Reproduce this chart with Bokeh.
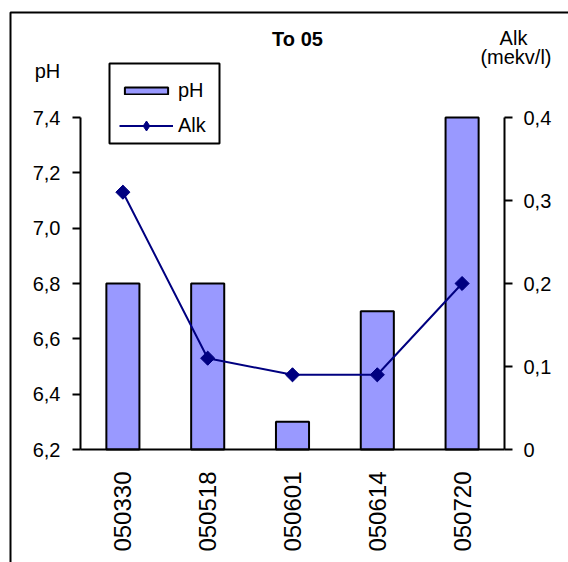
import numpy as np
from bokeh.plotting import figure
from bokeh.models import (Range1d, LinearAxis, FixedTicker, CustomJSTickFormatter,
                          Label, Legend, LegendItem, BoxAnnotation, ColumnDataSource)
from bokeh.embed import file_html
from bokeh.resources import INLINE

# ---- data ----
dates = ["050330", "050518", "050601", "050614", "050720"]
ph = [6.8, 6.8, 6.3, 6.7, 7.4]
alk = [0.31, 0.11, 0.09, 0.09, 0.20]
ph_ticks = [6.2, 6.4, 6.6, 6.8, 7.0, 7.2, 7.4]
alk_ticks = [0.0, 0.1, 0.2, 0.3, 0.4]
title_text = "To 05"
ph_axis_title = "pH"
alk_axis_title = ["Alk", "(mekv/l)"]
series_names = ["pH", "Alk"]

# ---- layout (canvas pixels) ----
W, H = 568, 562
PL, PR, PT, PB = 80, 504, 117, 449   # plot-area edges
FONT = "Liberation Sans"
FS = "20px"

n = len(dates)
xpos = [i + 0.5 for i in range(n)]
kx = (PR - PL) / n
ph_lo, ph_hi = ph_ticks[0], ph_ticks[-1]
ky = (PB - PT) / (ph_hi - ph_lo)
al_lo, al_hi = alk_ticks[0], alk_ticks[-1]
ka = (PB - PT) / (al_hi - al_lo)

x_range = Range1d(-PL / kx, n + (W - PR) / kx)
y_range = Range1d(ph_lo - (H - PB) / ky, ph_hi + PT / ky)

def sx(x):
    return x

def sy(y):
    return H - y

p = figure(width=W, height=H, x_range=x_range, y_range=y_range,
           output_backend="svg", toolbar_location=None, min_border=0)
p.extra_y_ranges = {"alk": Range1d(al_lo - (H - PB) / ka, al_hi + PT / ka)}
p.xgrid.visible = False
p.ygrid.visible = False
p.outline_line_color = None
p.background_fill_color = "white"
p.border_fill_color = "white"

# outer chart border (continues beyond the window, as in the reference)
p.add_layout(BoxAnnotation(left=sx(10), right=sx(W + 50), top=sy(12), bottom=sy(H + 50),
                           left_units="screen", right_units="screen",
                           top_units="screen", bottom_units="screen",
                           fill_alpha=0, line_color="black", line_alpha=1, line_width=2))

src = ColumnDataSource(dict(x=xpos, ph=ph, alk=alk, base=[ph_lo] * n))
bars = p.vbar(x="x", top="ph", bottom="base", width=0.39, source=src,
              fill_color="#9999FF", line_color="black", line_width=2)
ln = p.line(x="x", y="alk", source=src, y_range_name="alk", line_color="#000080", line_width=2)
leg_mk = p.scatter(x="x", y="alk", source=src, y_range_name="alk", marker="diamond",
                   size=13, fill_color="#000080", line_color="#000080")
mk = p.scatter(x="x", y="alk", source=src, y_range_name="alk", marker="square", angle=np.pi / 4,
               size=10, fill_color="#000080", line_color="#000080")

def style_axis(ax):
    ax.axis_line_width = 2
    ax.axis_line_color = "black"
    ax.major_tick_line_width = 2
    ax.major_tick_line_color = "black"
    ax.minor_tick_line_color = None
    ax.major_label_text_font = FONT
    ax.major_label_text_font_size = FS
    ax.major_label_text_color = "black"

yl = p.yaxis[0]
style_axis(yl)
yl.fixed_location = 0
yl.bounds = (ph_lo, ph_hi)
yl.ticker = FixedTicker(ticks=ph_ticks)
yl.formatter = CustomJSTickFormatter(code="return tick.toFixed(1).replace('.', ',');")
yl.major_tick_out = 8
yl.major_tick_in = 0
yl.major_label_standoff = 12

yr = LinearAxis(y_range_name="alk", fixed_location=n, bounds=(al_lo, al_hi))
style_axis(yr)
yr.ticker = FixedTicker(ticks=alk_ticks)
yr.formatter = CustomJSTickFormatter(code="return tick == 0 ? '0' : tick.toFixed(1).replace('.', ',');")
yr.major_tick_out = 8
yr.major_tick_in = 0
yr.major_label_standoff = 11
p.add_layout(yr, "right")

xa = p.xaxis[0]
style_axis(xa)
xa.fixed_location = ph_lo
xa.bounds = (0, n)
xa.ticker = FixedTicker(ticks=xpos)
xa.major_label_overrides = {x: d for x, d in zip(xpos, dates)}
xa.major_tick_out = 0
xa.major_tick_in = 0
xa.major_label_orientation = np.pi / 2
xa.major_label_standoff = 22
xa.major_label_text_font_size = "24px"

# titles
def lab(x, y, text, align="center", bold=False):
    p.add_layout(Label(x=sx(x), y=sy(y), x_units="screen", y_units="screen", text=text,
                       text_align=align, text_baseline="alphabetic", text_font=FONT,
                       text_font_size=FS, text_font_style="bold" if bold else "normal",
                       text_color="black"))

lab(297, 38, title_text, bold=True)
lab(47, 70, ph_axis_title)
lab(513, 37, alk_axis_title[0])
lab(551, 56, alk_axis_title[1], align="right")

def mk_legend(items, gh, bottom):
    lg = Legend(items=items, location=(sx(119), sy(bottom)), glyph_width=54, glyph_height=gh,
                label_height=gh, label_standoff=5, padding=0, margin=0, spacing=0,
                border_line_color=None, background_fill_alpha=0,
                label_text_font=FONT, label_text_font_size=FS, label_text_color="black")
    p.add_layout(lg)

mk_legend([LegendItem(label=series_names[0], renderers=[bars])], 9, 102)
mk_legend([LegendItem(label=series_names[1], renderers=[ln, leg_mk])], 25, 138)

# legend frame
p.add_layout(BoxAnnotation(left=sx(109), right=sx(219), top=sy(63), bottom=sy(143),
                           left_units="screen", right_units="screen",
                           top_units="screen", bottom_units="screen", level="overlay",
                           fill_alpha=0, line_color="black", line_alpha=1, line_width=2))

open("out.html", "w").write(file_html(p, INLINE))
